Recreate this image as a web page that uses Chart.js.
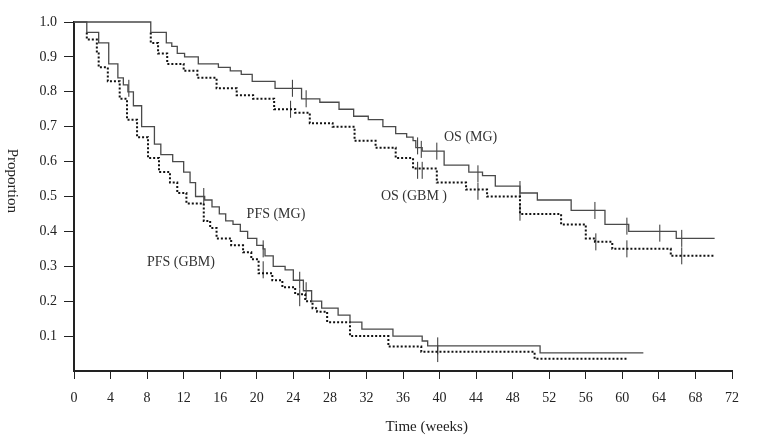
<!DOCTYPE html>
<html>
<head>
<meta charset="utf-8">
<script src="https://cdn.jsdelivr.net/npm/chart.js@4.4.1/dist/chart.umd.min.js"></script>
<style>
  html, body { margin: 0; padding: 0; background: #fff; }
  #wrap { width: 766px; height: 444px; }
</style>
</head>
<body>
<div id="wrap"><canvas id="km" width="766" height="444"></canvas></div>
<script>
// Kaplan-Meier curves: time (weeks) where the step drops, proportion after the drop
const osMgTime = [0, 8.4, 10.1, 10.7, 11.3, 12.1, 13.6, 15.8, 17.1, 18.3, 19.5, 22.0, 24.9, 26.9, 29.0, 30.6, 32.2, 33.8, 35.2, 36.4, 37.1, 37.4, 38.1, 40.5, 43.2, 44.7, 46.1, 48.8, 50.7, 54.4, 58.1, 60.7, 65.9, 70.1];
const osMgProp = [1.0, 0.97, 0.94, 0.93, 0.91, 0.90, 0.88, 0.87, 0.86, 0.85, 0.83, 0.81, 0.78, 0.77, 0.75, 0.73, 0.72, 0.70, 0.68, 0.67, 0.66, 0.64, 0.63, 0.59, 0.57, 0.56, 0.53, 0.51, 0.49, 0.46, 0.42, 0.40, 0.38, 0.38];

// dotted curves share the 1.0 line with the solid ones, so they start at their first drop
const osGbmTime = [8.4, 8.4, 9.2, 10.2, 12.0, 13.5, 15.6, 17.8, 19.6, 21.9, 24.2, 25.8, 28.3, 30.7, 33.0, 35.2, 37.1, 39.7, 42.9, 45.2, 48.8, 53.3, 56.0, 57.0, 58.9, 65.3, 70.1];
const osGbmProp = [0.97, 0.94, 0.91, 0.88, 0.86, 0.84, 0.81, 0.79, 0.78, 0.75, 0.74, 0.71, 0.70, 0.66, 0.64, 0.61, 0.58, 0.54, 0.52, 0.50, 0.45, 0.42, 0.38, 0.37, 0.35, 0.33, 0.33];

const pfsMgTime = [0, 1.4, 2.7, 3.8, 4.8, 5.4, 5.9, 6.5, 7.4, 8.8, 9.5, 10.8, 12.0, 12.7, 13.3, 14.3, 15.1, 15.9, 16.6, 17.4, 18.2, 19.0, 20.0, 20.7, 20.9, 21.8, 23.1, 24.0, 25.1, 26.0, 27.1, 28.9, 30.2, 31.5, 34.9, 38.1, 38.7, 51.0, 62.3];
const pfsMgProp = [1.0, 0.97, 0.94, 0.88, 0.84, 0.82, 0.80, 0.76, 0.70, 0.65, 0.62, 0.60, 0.57, 0.54, 0.50, 0.49, 0.47, 0.45, 0.43, 0.42, 0.40, 0.38, 0.36, 0.35, 0.33, 0.30, 0.29, 0.26, 0.23, 0.20, 0.18, 0.16, 0.14, 0.12, 0.10, 0.086, 0.072, 0.052, 0.052];

const pfsGbmTime = [1.4, 1.4, 2.5, 2.7, 3.7, 5.0, 5.8, 6.9, 8.1, 9.3, 10.5, 11.3, 12.3, 14.2, 14.9, 15.6, 17.2, 18.5, 19.4, 20.2, 21.7, 22.8, 24.2, 25.3, 26.1, 26.6, 27.7, 30.2, 34.4, 38.0, 50.4, 60.5];
const pfsGbmProp = [0.97, 0.95, 0.91, 0.87, 0.83, 0.78, 0.72, 0.67, 0.61, 0.57, 0.54, 0.51, 0.48, 0.43, 0.41, 0.38, 0.36, 0.34, 0.32, 0.28, 0.26, 0.24, 0.22, 0.20, 0.18, 0.17, 0.14, 0.10, 0.07, 0.055, 0.035, 0.035];

// censored observations (vertical tick marks)
const osMgCensTime = [23.9, 25.4, 37.6, 38.0, 39.7, 44.2, 48.8, 57.0, 60.5, 64.1, 66.5];
const osMgCensProp = [0.81, 0.78, 0.645, 0.635, 0.63, 0.565, 0.52, 0.46, 0.415, 0.395, 0.38];
const osGbmCensTime = [23.7, 37.6, 38.1, 44.2, 48.8, 57.1, 60.5, 66.5];
const osGbmCensProp = [0.75, 0.575, 0.575, 0.515, 0.455, 0.37, 0.35, 0.33];
const pfsMgCensTime = [6.0, 14.2, 20.7, 24.7, 25.4, 39.8];
const pfsMgCensProp = [0.81, 0.50, 0.35, 0.26, 0.23, 0.072];
const pfsGbmCensTime = [20.7, 24.7, 39.8];
const pfsGbmCensProp = [0.29, 0.21, 0.05];

// curve labels
const curveLabels = ['OS (MG)', 'OS (GBM )', 'PFS (MG)', 'PFS (GBM)'];
const labelWeeks = [43.4, 37.2, 22.1, 11.7];
const labelProp = [0.67, 0.50, 0.45, 0.31];

const xTitle = 'Time (weeks)';
const yTitle = 'Proportion';

const serif = '"Liberation Serif", "Times New Roman", serif';
const ink = '#222';

const pts = (t, p) => t.map((x, i) => ({ x: x, y: p[i] }));

const curve = (label, t, p, dotted) => ({
	label: label,
	data: pts(t, p),
	stepped: 'before',
	borderColor: dotted ? '#111' : '#4a4a4a',
	borderWidth: dotted ? 2 : 1.3,
	borderDash: dotted ? [2, 2] : [],
	pointRadius: 0,
	fill: false,
	clip: false
});

const censor = (label, t, p) => ({
	label: label,
	data: pts(t, p),
	showLine: false,
	pointStyle: 'line',
	pointRotation: 90,
	pointRadius: 8.5,
	pointBorderWidth: 1,
	pointBorderColor: '#333',
	clip: false
});

// draws the curve labels and both axis titles as text
const textPlugin = {
	id: 'kmText',
	afterDraw(chart) {
		const ctx = chart.ctx;
		const xs = chart.scales.x;
		const ys = chart.scales.y;
		ctx.save();
		ctx.fillStyle = '#333';
		ctx.textAlign = 'center';
		ctx.textBaseline = 'middle';
		ctx.font = '14px ' + serif;
		curveLabels.forEach((txt, i) => {
			ctx.fillText(txt, xs.getPixelForValue(labelWeeks[i]), ys.getPixelForValue(labelProp[i]));
		});
		ctx.font = '15px ' + serif;
		ctx.fillStyle = ink;
		ctx.fillText(xTitle, xs.getPixelForValue(38.6), chart.chartArea.bottom + 56);
		ctx.translate(12, ys.getPixelForValue(0.545));
		ctx.rotate(Math.PI / 2);
		ctx.fillText(yTitle, 0, 0);
		ctx.restore();
	}
};

new Chart(document.getElementById('km'), {
	type: 'line',
	data: {
		datasets: [
			curve('OS (MG)', osMgTime, osMgProp, false),
			curve('PFS (MG)', pfsMgTime, pfsMgProp, false),
			curve('OS (GBM)', osGbmTime, osGbmProp, true),
			curve('PFS (GBM)', pfsGbmTime, pfsGbmProp, true),
			censor('OS (MG) censored', osMgCensTime, osMgCensProp),
			censor('OS (GBM) censored', osGbmCensTime, osGbmCensProp),
			censor('PFS (MG) censored', pfsMgCensTime, pfsMgCensProp),
			censor('PFS (GBM) censored', pfsGbmCensTime, pfsGbmCensProp)
		]
	},
	options: {
		responsive: false,
		animation: false,
		layout: { padding: { top: 22, right: 34, left: 0, bottom: 0 } },
		plugins: {
			legend: { display: false },
			tooltip: { enabled: false }
		},
		scales: {
			x: {
				type: 'linear',
				min: 0,
				max: 72,
				afterFit: (s) => { s.height = 73; },
				border: { display: true, color: ink, width: 2 },
				grid: { drawOnChartArea: false, drawTicks: true, tickLength: 8, color: ink, tickColor: ink },
				ticks: { stepSize: 4, color: ink, padding: 11, font: { family: serif, size: 14 } }
			},
			y: {
				min: 0,
				max: 1,
				afterFit: (s) => { s.width = 74; },
				border: { display: true, color: ink, width: 2 },
				grid: {
					drawOnChartArea: false,
					drawTicks: true,
					tickLength: 10,
					tickColor: (c) => (c.tick && c.tick.value === 0 ? 'rgba(0,0,0,0)' : ink)
				},
				ticks: {
					stepSize: 0.1,
					color: ink,
					padding: 7,
					font: { family: serif, size: 14 },
					callback: (v) => (v === 0 ? '' : v.toFixed(1))
				}
			}
		}
	},
	plugins: [textPlugin]
});
</script>
</body>
</html>
